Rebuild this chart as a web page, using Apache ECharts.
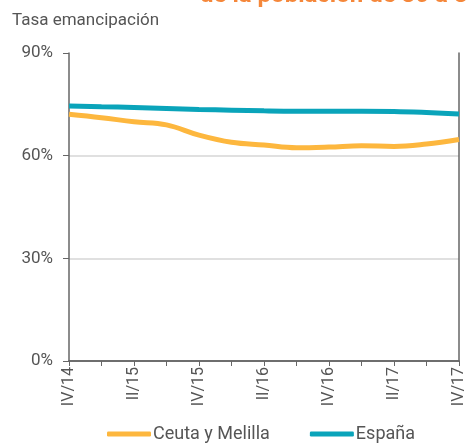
<!DOCTYPE html>
<html>
<head>
<meta charset="utf-8">
<script src="https://cdn.jsdelivr.net/npm/echarts@6/dist/echarts.min.js"></script>
<style>
  html, body { margin: 0; padding: 0; background: #fff; }
  #chart { width: 467px; height: 444px; }
</style>
</head>
<body>
<div id="chart"></div>
<script>
// trimestres IV/14 .. IV/17
const quarters = ['IV/14', 'I/15', 'II/15', 'III/15', 'IV/15', 'I/16', 'II/16', 'III/16', 'IV/16', 'I/17', 'II/17', 'III/17', 'IV/17']
const ceutaMelilla = [72.1, 71.1, 69.9, 69.0, 66.0, 63.9, 63.1, 62.3, 62.5, 62.9, 62.7, 63.4, 64.7]
const espana = [74.5, 74.3, 74.1, 73.8, 73.5, 73.3, 73.1, 73.0, 73.0, 73.0, 72.9, 72.6, 72.2]

const axisColor = '#666'
const textColor = '#555'
const font = 'Roboto'

const chart = echarts.init(document.getElementById('chart'))

chart.setOption({
  animation: false,
  textStyle: { fontFamily: font },
  graphic: [
    {
      type: 'text',
      left: 200,
      top: -16,
      style: {
        text: 'de la población de 30 a 34 años',
        fill: '#f5873a',
        font: 'bold 24px ' + font
      }
    },
    {
      type: 'text',
      left: 12,
      top: 12,
      style: {
        text: 'Tasa emancipación',
        fill: textColor,
        font: '17px ' + font
      }
    }
  ],
  legend: {
    bottom: -4,
    left: 102,
    itemWidth: 44,
    itemHeight: 5,
    itemGap: 40,
    icon: 'roundRect',
    textStyle: { color: textColor, fontSize: 18, fontFamily: font, padding: [0, 0, 0, -3] },
    data: ['Ceuta y Melilla', 'España']
  },
  grid: { left: 69, right: 8, top: 53, bottom: 83 },
  xAxis: [
    {
      type: 'category',
      data: quarters,
      boundaryGap: false,
      axisLine: { lineStyle: { color: axisColor, width: 1.5 } },
      axisTick: { length: 5, interval: 0, lineStyle: { color: axisColor } },
      axisLabel: {
        interval: 1,
        rotate: 90,
        color: textColor,
        fontSize: 16,
        margin: 6
      }
    },
    {
      type: 'category',
      data: quarters,
      position: 'top',
      boundaryGap: false,
      axisLine: { lineStyle: { color: axisColor, width: 1.5 } },
      axisTick: { show: false },
      axisLabel: { show: false }
    }
  ],
  yAxis: [
    {
      type: 'value',
      min: 0,
      max: 90,
      interval: 30,
      axisLine: { show: true, lineStyle: { color: axisColor, width: 1.5 } },
      axisTick: { show: true, length: 6, lineStyle: { color: axisColor } },
      axisLabel: { color: textColor, fontSize: 17, margin: 16, formatter: '{value}%' },
      splitLine: { showMinLine: false, showMaxLine: false, lineStyle: { color: '#d6d6d6', width: 1.5 } }
    },
    {
      type: 'value',
      min: 0,
      max: 90,
      interval: 30,
      position: 'right',
      axisLine: { show: true, lineStyle: { color: axisColor, width: 1.5 } },
      axisTick: { show: false },
      axisLabel: { show: false },
      splitLine: { show: false }
    }
  ],
  series: [
    {
      name: 'Ceuta y Melilla',
      type: 'line',
      data: ceutaMelilla,
      smooth: 0.4,
      symbol: 'none',
      itemStyle: { color: '#fdb73e' },
      lineStyle: { color: '#fdb73e', width: 5 }
    },
    {
      name: 'España',
      type: 'line',
      data: espana,
      smooth: 0.4,
      symbol: 'none',
      itemStyle: { color: '#0aa4ba' },
      lineStyle: { color: '#0aa4ba', width: 5 }
    }
  ]
})
</script>
</body>
</html>
